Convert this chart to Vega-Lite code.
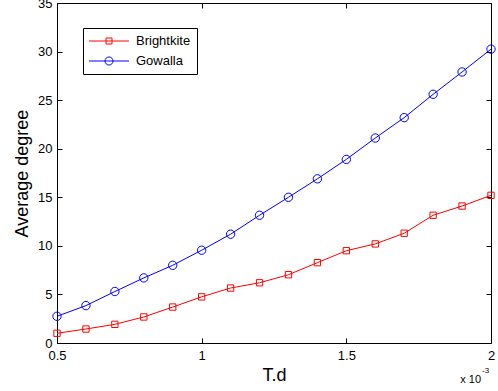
{
  "$schema": "https://vega.github.io/schema/vega-lite/v6.json",
  "width": 434,
  "height": 340,
  "autosize": {"type": "none"},
  "padding": {"left": 57, "top": 3, "right": 7, "bottom": 48},
  "background": "white",
  "config": {
    "view": {"stroke": "black", "strokeWidth": 1},
    "font": "Liberation Sans",
    "axis": {
      "domain": false,
      "grid": false,
      "labelFont": "Liberation Sans",
      "labelFontSize": 13,
      "labelColor": "black",
      "tickColor": "black",
      "tickSize": -5,
      "tickWidth": 1,
      "titleFont": "Liberation Sans",
      "titleFontSize": 18,
      "titleFontWeight": "normal",
      "titleColor": "black"
    },
    "legend": {
      "orient": "none",
      "legendX": 26,
      "legendY": 25,
      "strokeColor": "black",
      "fillColor": "white",
      "padding": 6,
      "labelFont": "Liberation Sans",
      "labelFontSize": 13,
      "labelColor": "black",
      "labelOffset": 33,
      "symbolOffset": 0,
      "symbolSize": 169,
      "symbolStrokeWidth": 1,
      "symbolFillColor": "transparent",
      "rowPadding": 6
    }
  },
  "data": {
    "values": [
      {"td": 0.5, "degree": 1.0, "series": "Brightkite"},
      {"td": 0.6, "degree": 1.44, "series": "Brightkite"},
      {"td": 0.7, "degree": 1.92, "series": "Brightkite"},
      {"td": 0.8, "degree": 2.68, "series": "Brightkite"},
      {"td": 0.9, "degree": 3.7, "series": "Brightkite"},
      {"td": 1.0, "degree": 4.75, "series": "Brightkite"},
      {"td": 1.1, "degree": 5.66, "series": "Brightkite"},
      {"td": 1.2, "degree": 6.2, "series": "Brightkite"},
      {"td": 1.3, "degree": 7.03, "series": "Brightkite"},
      {"td": 1.4, "degree": 8.27, "series": "Brightkite"},
      {"td": 1.5, "degree": 9.5, "series": "Brightkite"},
      {"td": 1.6, "degree": 10.2, "series": "Brightkite"},
      {"td": 1.7, "degree": 11.3, "series": "Brightkite"},
      {"td": 1.8, "degree": 13.15, "series": "Brightkite"},
      {"td": 1.9, "degree": 14.1, "series": "Brightkite"},
      {"td": 2.0, "degree": 15.2, "series": "Brightkite"},
      {"td": 0.5, "degree": 2.75, "series": "Gowalla"},
      {"td": 0.6, "degree": 3.85, "series": "Gowalla"},
      {"td": 0.7, "degree": 5.3, "series": "Gowalla"},
      {"td": 0.8, "degree": 6.7, "series": "Gowalla"},
      {"td": 0.9, "degree": 8.0, "series": "Gowalla"},
      {"td": 1.0, "degree": 9.55, "series": "Gowalla"},
      {"td": 1.1, "degree": 11.2, "series": "Gowalla"},
      {"td": 1.2, "degree": 13.15, "series": "Gowalla"},
      {"td": 1.3, "degree": 15.0, "series": "Gowalla"},
      {"td": 1.4, "degree": 16.9, "series": "Gowalla"},
      {"td": 1.5, "degree": 18.9, "series": "Gowalla"},
      {"td": 1.6, "degree": 21.1, "series": "Gowalla"},
      {"td": 1.7, "degree": 23.2, "series": "Gowalla"},
      {"td": 1.8, "degree": 25.6, "series": "Gowalla"},
      {"td": 1.9, "degree": 27.9, "series": "Gowalla"},
      {"td": 2.0, "degree": 30.25, "series": "Gowalla"}
    ]
  },
  "resolve": {
    "axis": {"x": "independent", "y": "independent"},
    "scale": {"shape": "independent"},
    "legend": {"color": "independent", "shape": "independent"}
  },
  "layer": [
    {
      "mark": {"type": "line", "strokeWidth": 1},
      "encoding": {
        "x": {
          "field": "td", "type": "quantitative",
          "scale": {"domain": [0.5, 2], "nice": false, "zero": false},
          "axis": {"orient": "bottom", "values": [0.5, 1, 1.5, 2], "format": "~g", "labelPadding": 11, "title": "T.d", "titlePadding": 4, "labelFlush": false}
        },
        "y": {
          "field": "degree", "type": "quantitative",
          "scale": {"domain": [0, 35], "nice": false, "zero": false},
          "axis": {"orient": "left", "values": [0, 5, 10, 15, 20, 25, 30, 35], "labelPadding": 10, "title": "Average degree", "titlePadding": 6, "labelFlush": false}
        },
        "color": {
          "field": "series", "type": "nominal",
          "scale": {"domain": ["Brightkite", "Gowalla"], "range": ["#ff0000", "#0000ff"]},
          "legend": null
        },
        "detail": {"field": "series"}
      }
    },
    {
      "mark": {"type": "point", "filled": false, "strokeWidth": 1, "opacity": 1},
      "encoding": {
        "x": {
          "field": "td", "type": "quantitative",
          "scale": {"domain": [0.5, 2], "nice": false, "zero": false},
          "axis": {"orient": "top", "values": [0.5, 1, 1.5, 2], "labels": false, "title": null}
        },
        "y": {
          "field": "degree", "type": "quantitative",
          "scale": {"domain": [0, 35], "nice": false, "zero": false},
          "axis": {"orient": "right", "values": [0, 5, 10, 15, 20, 25, 30, 35], "labels": false, "title": null}
        },
        "color": {
          "field": "series", "type": "nominal",
          "scale": {"domain": ["Brightkite", "Gowalla"], "range": ["#ff0000", "#0000ff"]},
          "legend": null
        },
        "size": {
          "field": "series", "type": "nominal",
          "scale": {"domain": ["Gowalla", "Brightkite"], "range": [70, 40]},
          "legend": null
        },
        "shape": {
          "field": "series", "type": "nominal",
          "scale": {"domain": ["Brightkite", "Gowalla"], "range": ["square", "circle"]},
          "legend": null
        }
      }
    },
    {
      "transform": [{"filter": "false"}],
      "mark": {"type": "point", "filled": false, "strokeWidth": 1, "opacity": 1},
      "encoding": {
        "color": {
          "field": "series", "type": "nominal",
          "scale": {"domain": ["Brightkite", "Gowalla"], "range": ["#ff0000", "#0000ff"]},
          "legend": {"title": null}
        },
        "shape": {
          "field": "series", "type": "nominal",
          "scale": {
            "domain": ["Brightkite", "Gowalla"],
            "range": [
              "M-1.08,0H5.08M1.54,-0.46H2.46V0.46H1.54Z",
              "M-1.08,0H5.08M2.62,0A0.62,0.62,0,1,1,1.38,0A0.62,0.62,0,1,1,2.62,0Z"
            ]
          },
          "legend": {"title": null}
        }
      }
    },
    {
      "data": {"values": [{"label": "x 10"}]},
      "mark": {"type": "text", "align": "right", "baseline": "alphabetic", "fontSize": 11, "font": "Liberation Sans", "color": "black", "dx": -10},
      "encoding": {
        "text": {"field": "label"},
        "x": {"datum": 2, "type": "quantitative", "scale": {"domain": [0.5, 2], "nice": false, "zero": false}, "axis": null},
        "y": {"datum": -4.1, "type": "quantitative", "scale": {"domain": [0, 35], "nice": false, "zero": false}, "axis": null}
      }
    },
    {
      "data": {"values": [{"label": "-3"}]},
      "mark": {"type": "text", "align": "left", "baseline": "alphabetic", "fontSize": 8, "font": "Liberation Sans", "color": "black", "dx": -9},
      "encoding": {
        "text": {"field": "label"},
        "x": {"datum": 2, "type": "quantitative", "scale": {"domain": [0.5, 2], "nice": false, "zero": false}, "axis": null},
        "y": {"datum": -3.1, "type": "quantitative", "scale": {"domain": [0, 35], "nice": false, "zero": false}, "axis": null}
      }
    }
  ]
}
